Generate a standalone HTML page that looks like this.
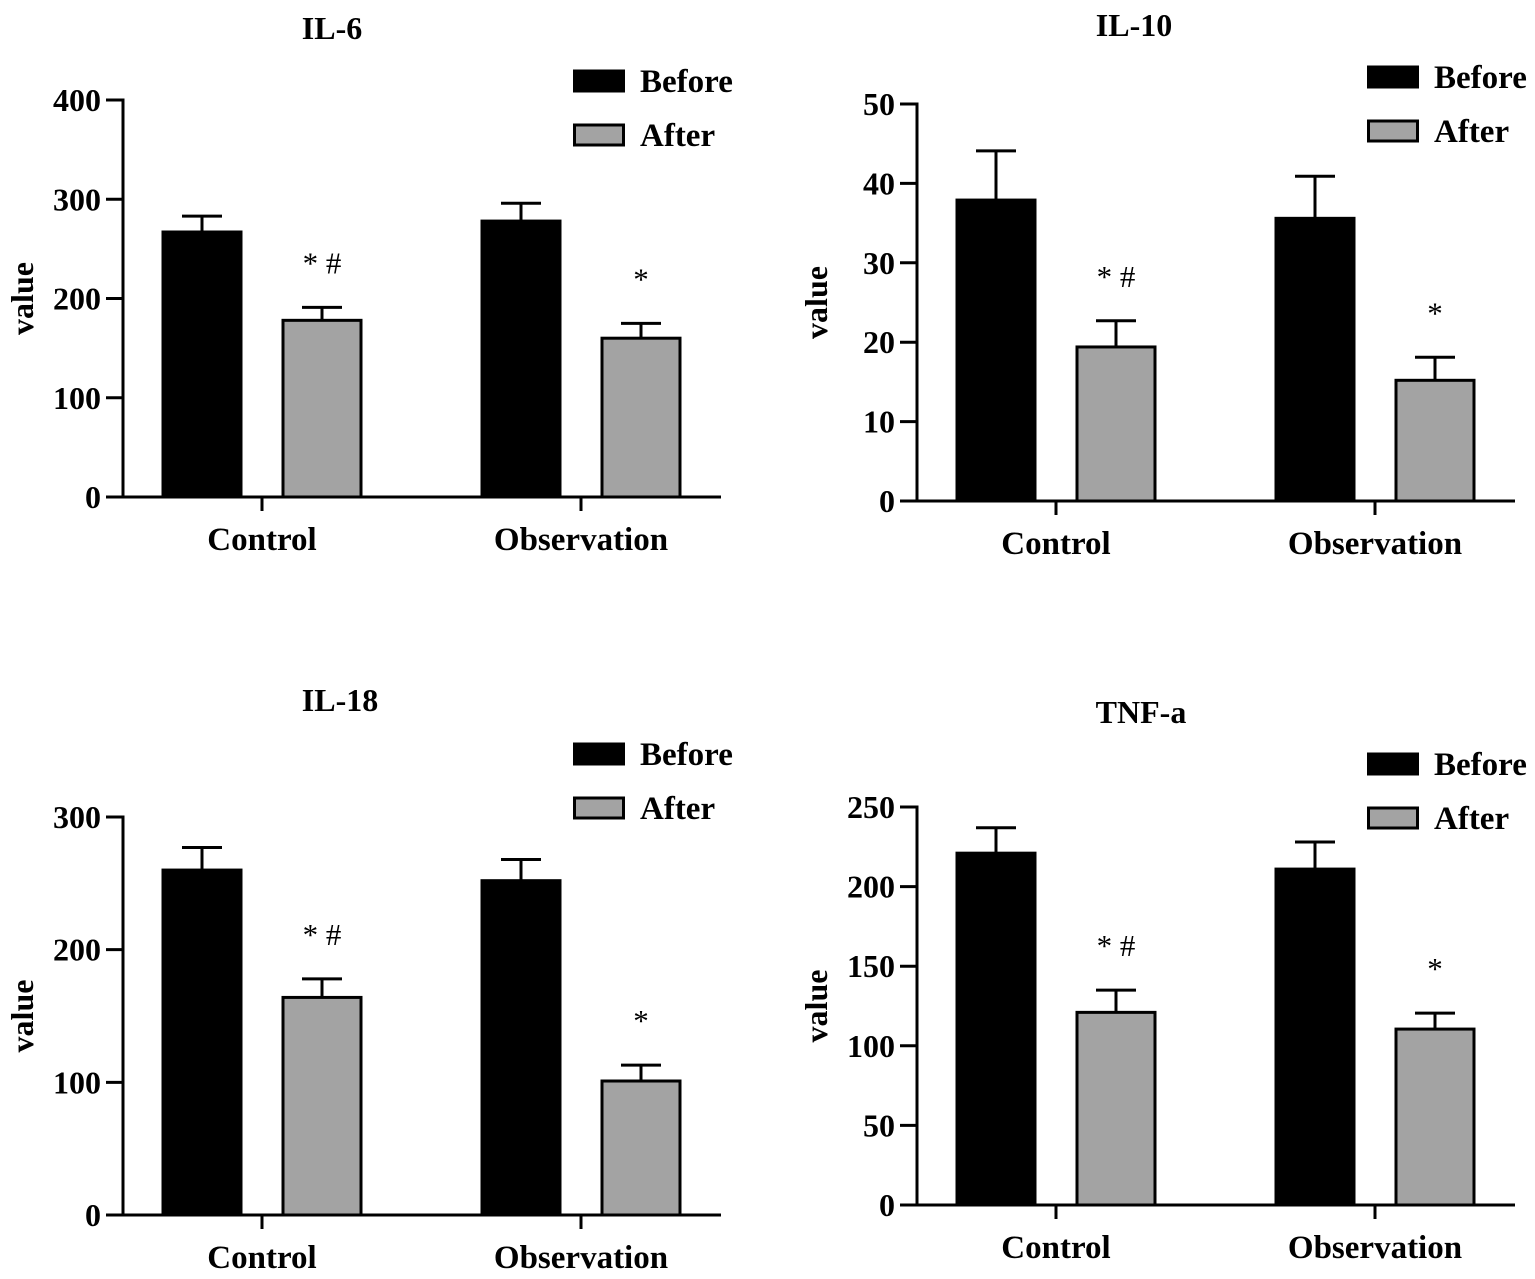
<!DOCTYPE html>
<html><head><meta charset="utf-8"><style>
html,body{margin:0;padding:0;background:#fff;}
svg{display:block;font-family:"Liberation Serif",serif;font-weight:bold;}
</style></head><body>
<svg id="c" width="1535" height="1279" viewBox="0 0 1535 1279"></svg>
<script>
const titles = ["IL-6","IL-10","IL-18","TNF-a"];
const categories = ["Control","Observation"];
const series = ["Before","After"];
const il6Before = [267, 278], il6BeforeErr = [16, 18];
const il6After = [178, 160], il6AfterErr = [13, 15];
const il10Before = [37.9, 35.6], il10BeforeErr = [6.2, 5.3];
const il10After = [19.4, 15.2], il10AfterErr = [3.3, 2.9];
const il18Before = [260, 252], il18BeforeErr = [17, 16];
const il18After = [164, 101], il18AfterErr = [14, 12];
const tnfBefore = [221, 211], tnfBeforeErr = [16, 17];
const tnfAfter = [121, 110.5], tnfAfterErr = [14, 10];
const il6Ticks = [0,100,200,300,400];
const il10Ticks = [0,10,20,30,40,50];
const il18Ticks = [0,100,200,300];
const tnfTicks = [0,50,100,150,200,250];
const annotations = [["* #","*"],["* #","*"],["* #","*"],["* #","*"]];

const NS="http://www.w3.org/2000/svg";
const svg=document.getElementById('c');
function mk(tag,attrs,parent,name){const e=document.createElementNS(NS,tag);for(const k in attrs)e.setAttribute(k,attrs[k]);


(parent||svg).appendChild(e);return e;}

const panels=[
 {t:0,ax:123,y0:497,yTop:100,max:400,ticks:il6Ticks,b:il6Before,be:il6BeforeErr,a:il6After,ae:il6AfterErr,tx:332,ty:39,ly:81,lx:573},
 {t:1,ax:917,y0:501,yTop:104,max:50,ticks:il10Ticks,b:il10Before,be:il10BeforeErr,a:il10After,ae:il10AfterErr,tx:1134,ty:36,ly:77,lx:1367},
 {t:2,ax:123,y0:1215,yTop:817,max:300,ticks:il18Ticks,b:il18Before,be:il18BeforeErr,a:il18After,ae:il18AfterErr,tx:340,ty:711,ly:754,lx:573},
 {t:3,ax:917,y0:1205,yTop:807,max:250,ticks:tnfTicks,b:tnfBefore,be:tnfBeforeErr,a:tnfAfter,ae:tnfAfterErr,tx:1141,ty:723,ly:764,lx:1367}
];
panels.forEach((p,pi)=>{
 const g=mk('g',{},svg,'panel-'+titles[p.t].toLowerCase());
 const y=v=>p.y0-(v/p.max)*(p.y0-p.yTop);
 const off=p.ax-123;
 mk('text',{x:p.tx,y:p.ty,'text-anchor':'middle','font-size':32},g,'chart-title').textContent=titles[p.t];
 const yl=mk('text',{x:0,y:0,'text-anchor':'middle','font-size':32,transform:`translate(${33+off},${(p.y0+p.yTop)/2}) rotate(-90)`},g,'y-axis-title');yl.textContent='value';
 mk('line',{x1:p.ax,y1:p.yTop-1.5,x2:p.ax,y2:p.y0+1.5,stroke:'#000','stroke-width':3},g,'y-axis');
 mk('line',{x1:p.ax-1.5,y1:p.y0,x2:p.ax+598,y2:p.y0,stroke:'#000','stroke-width':3},g,'x-axis');
 p.ticks.forEach(t=>{
  mk('line',{x1:p.ax-17,y1:y(t),x2:p.ax,y2:y(t),stroke:'#000','stroke-width':3},g,'y-tick');
  mk('text',{x:p.ax-22,y:y(t)+11,'text-anchor':'end','font-size':32},g,'y-tick-label').textContent=t;
 });
 const centers=[262+off,581+off];
 categories.forEach((c,ci)=>{
  const cx=centers[ci];
  mk('line',{x1:cx,y1:p.y0,x2:cx,y2:p.y0+14,stroke:'#000','stroke-width':3},g,'x-tick');
  mk('text',{x:cx,y:p.y0+53,'text-anchor':'middle','font-size':33},g,'x-tick-label').textContent=c;
  [[p.b,p.be,'#000',-99],[p.a,p.ae,'#a3a3a3',21]].forEach((s,si)=>{
   const x0=cx+s[3], v=s[0][ci], e=s[1][ci];
   const bx=x0+39;
   mk('line',{x1:bx,y1:y(v),x2:bx,y2:y(v+e),stroke:'#000','stroke-width':3},g,'error-bar');
   mk('line',{x1:bx-20,y1:y(v+e),x2:bx+20,y2:y(v+e),stroke:'#000','stroke-width':3},g,'error-cap');
   mk('rect',{x:x0,y:y(v),width:78,height:p.y0-y(v),fill:s[2],stroke:'#000','stroke-width':3},g,'bar-'+series[si].toLowerCase()+'-'+c.toLowerCase());
   if(si===1){mk('text',{x:bx,y:y(v+e)-34,'text-anchor':'middle','font-size':31,'font-weight':'normal'},g,'significance-mark').textContent=annotations[pi][ci];}
  });
 });
 series.forEach((s,si)=>{
  const ly=p.ly+si*54;
  mk('rect',{x:p.lx+1.5,y:ly-10,width:49,height:20,fill:si?'#a3a3a3':'#000',stroke:'#000','stroke-width':3},g,'legend-swatch-'+s.toLowerCase());
  mk('text',{x:p.lx+67,y:ly+11,'font-size':33},g,'legend-label-'+s.toLowerCase()).textContent=s;
 });
});
</script>
</body></html>
